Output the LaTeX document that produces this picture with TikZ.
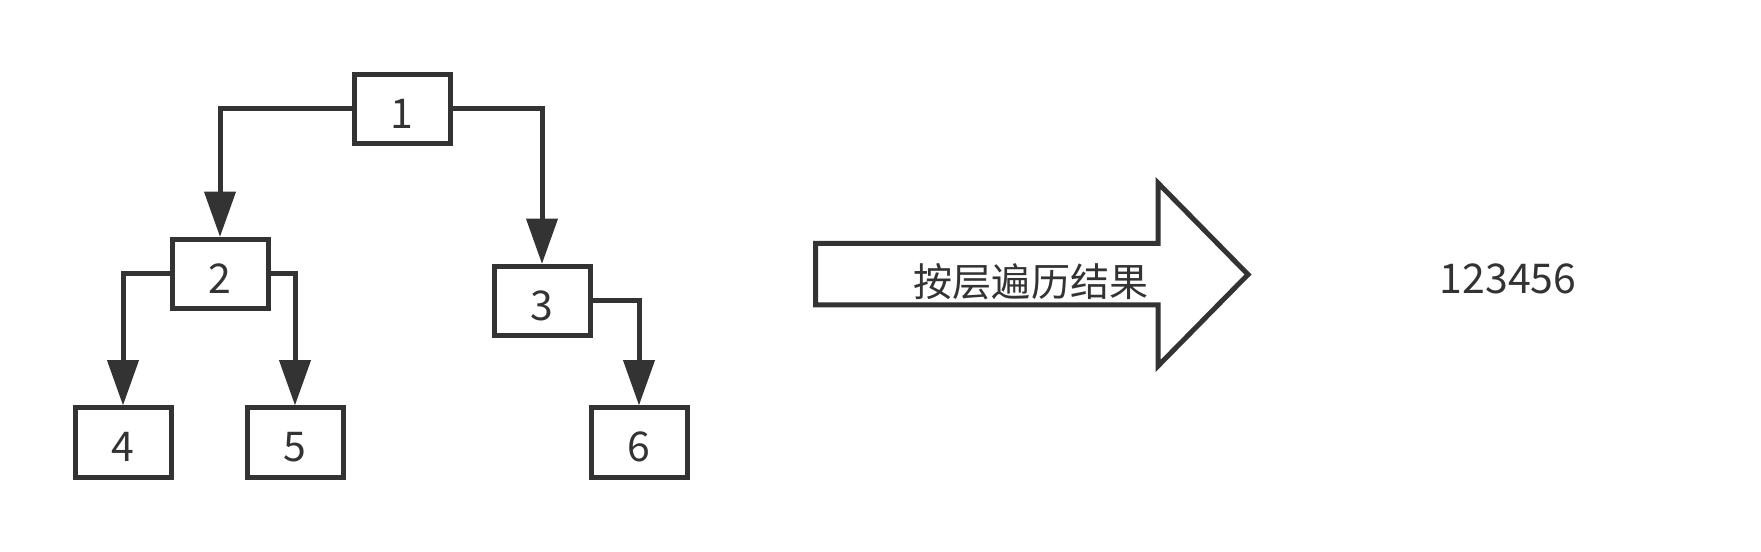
\documentclass[tikz,border=0pt]{standalone}
\usepackage{fontspec}
\setmainfont{Noto Sans CJK SC}
\usepackage{tikz}
\usetikzlibrary{
	arrows.meta,
	positioning
}
\definecolor{tinta}{HTML}{333333}

\begin{document}
\begin{tikzpicture}[
  x=0.75pt, y=-0.75pt,
  line width=3.75pt, color=tinta,
  texto/.style={font=\fontsize{30.75}{36}\selectfont, text=tinta},
  nodo/.style={rectangle, draw, texto, minimum width=72pt,
    minimum height=51.75pt, text height=29.2pt, text depth=0pt},
  arista/.style={-{Triangle[length=34pt, width=23pt]}}
]
\useasboundingbox (0,0) rectangle (1761,552);
\foreach \n/\x/\y in {
  1/402/109,
  2/220/274,
  3/542/301,
  4/123/442.5,
  5/295/442.5,
  6/639/442.5}
{
  \node[nodo] (n\n) at (\x,\y) {\n};
}
\foreach \a/\lado/\b in {1/west/2, 1/east/3, 2/west/4, 2/east/5, 3/east/6}
{
  \draw[arista] (n\a.\lado) -| (n\b.north);
}
% flecha grande
\draw[line join=miter] (815.7,243.3) -- (1158,243.3) -- (1158,183) -- (1248,274.5)
  -- (1158,366) -- (1158,305) -- (815.7,305) -- cycle;
\node[texto, font=\fontsize{29.3}{34}\selectfont] (etiqueta) at (1031,282) {按层遍历结果};
\node[texto] (resultado) at (1508,279) {123456};
\end{tikzpicture}
\end{document}
